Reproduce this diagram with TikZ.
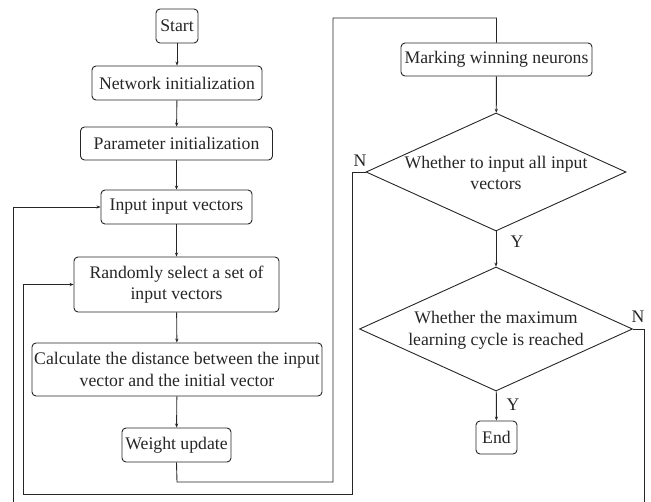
\documentclass[tikz,border=0pt]{standalone}
\usepackage{fontspec}
\setmainfont{Liberation Serif}
\usetikzlibrary{shapes.geometric,arrows.meta}
\definecolor{ink}{HTML}{262626}
\tikzset{
  every node/.style={font=\fontsize{17.7}{21.5}\selectfont, text=ink},
  procbox/.style={draw=ink, line width=0.9pt, rounded corners=4pt, inner sep=0pt, align=center},
  decbox/.style={draw=ink, line width=0.9pt, shape=diamond, inner sep=0pt},
  conn/.style={draw=ink, line width=0.9pt},
  arr/.style={conn, -{Stealth[length=4pt,width=3.2pt]}},
  lbl/.style={inner sep=0pt}
}
\begin{document}
\begin{tikzpicture}[x=1pt,y=-1pt]
\useasboundingbox (0,0) rectangle (651,502);
% left column
\node[procbox, minimum width=42pt, minimum height=34pt] (start) at (177,26) {Start};
\node[procbox, minimum width=170pt, minimum height=34pt] (net) at (177,83) {Network initialization};
\node[procbox, minimum width=192pt, minimum height=33pt] (par) at (176.5,143.5) {Parameter initialization};
\node[procbox, minimum width=151pt, minimum height=34pt] (inp) at (176.5,207) {Input input vectors};
\node[procbox, minimum width=205pt, minimum height=55pt] (rnd) at (176.5,284.5) {Randomly select a set of\\input vectors};
\node[procbox, minimum width=290pt, minimum height=53pt] (calc) at (177,369.5) {Calculate the distance between the input\\vector and the initial vector};
\node[procbox, minimum width=109pt, minimum height=34pt] (wu) at (176.5,445) {Weight update};
% right column
\node[procbox, minimum width=191pt, minimum height=33pt] (mark) at (496.5,59.5) {Marking winning neurons};
\node[decbox, minimum width=260pt, minimum height=118pt] (d1) at (496,172) {};
\node[lbl, align=center] (d1t) at (496,173) {Whether to input all input\\vectors};
\node[decbox, minimum width=273pt, minimum height=124pt] (d2) at (496,329) {};
\node[lbl, align=center] (d2t) at (496,330.5) {Whether the maximum\\learning cycle is reached};
\node[procbox, minimum width=41pt, minimum height=33pt] (end) at (496.5,437.5) {End};
% labels
\node[lbl] (n1) at (360,161) {N};
\node[lbl] (y1) at (517,242) {Y};
\node[lbl] (n2) at (638,317) {N};
\node[lbl] (y2) at (513,405) {Y};
% helper coordinates
\coordinate (w1) at (177,482);
\coordinate (w2) at (333,482);
\coordinate (w3) at (333,18);
\coordinate (w4) at (496.5,18);
\coordinate (a1) at (352,172);
\coordinate (a2) at (352,494);
\coordinate (a3) at (23,494);
\coordinate (a4) at (23,284.5);
\coordinate (b1) at (644,329);
\coordinate (b2) at (644,506);
\coordinate (b3) at (13,506);
\coordinate (b4) at (13,207);
% connectors
\draw[arr] (start) -- (net);
\draw[arr] (net) -- (par);
\draw[arr] (par) -- (inp);
\draw[arr] (inp) -- (rnd);
\draw[arr] (rnd) -- (calc);
\draw[arr] (calc) -- (wu);
\draw[conn] (wu.south) -- (w1) -- (w2) -- (w3) -- (w4) -- (mark.north);
\draw[arr] (mark) -- (d1);
\draw[arr] (d1) -- (d2);
\draw[arr] (d2) -- (end);
\draw[arr] (d1.west) -- (a1) -- (a2) -- (a3) -- (a4) -- (rnd.west);
\draw[arr] (d2.east) -- (b1) -- (b2) -- (b3) -- (b4) -- (inp.west);
\end{tikzpicture}
\end{document}
